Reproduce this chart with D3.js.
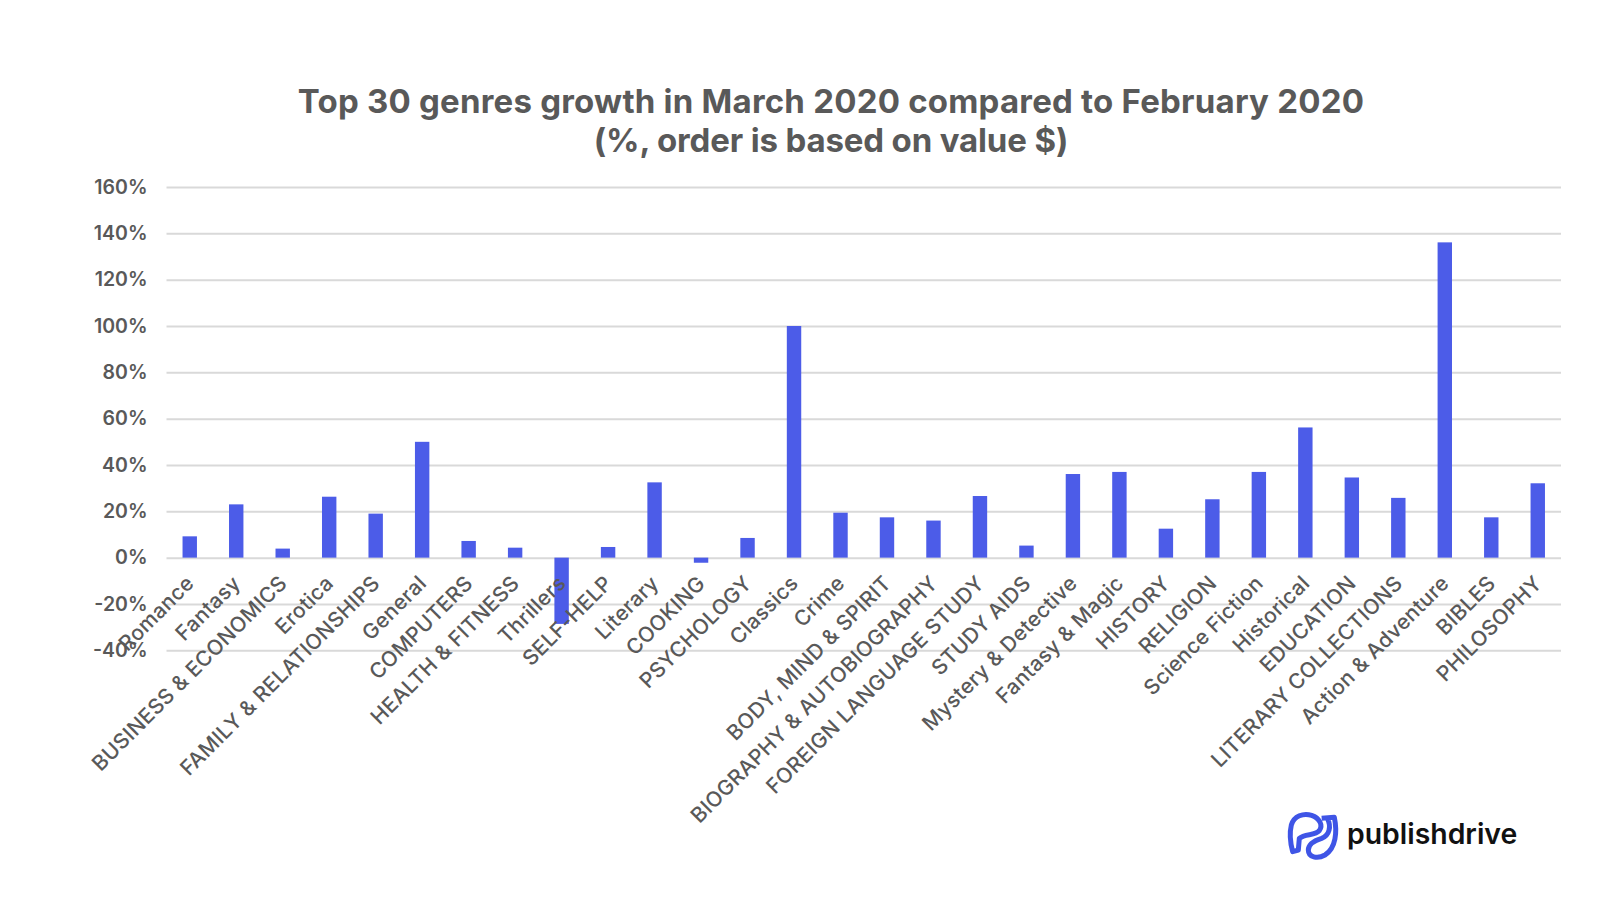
<!DOCTYPE html>
<html>
<head>
<meta charset="utf-8">
<script src="https://cdn.jsdelivr.net/npm/d3@7"></script>
<style>
  html, body { margin: 0; padding: 0; background: #fff; }
  svg { display: block; font-family: Inter, "Open Sans", sans-serif; }
</style>
</head>
<body>
<div id="chart"></div>
<script>
const genres = ["Romance", "Fantasy", "BUSINESS & ECONOMICS", "Erotica", "FAMILY & RELATIONSHIPS",
  "General", "COMPUTERS", "HEALTH & FITNESS", "Thrillers", "SELF-HELP", "Literary", "COOKING",
  "PSYCHOLOGY", "Classics", "Crime", "BODY, MIND & SPIRIT", "BIOGRAPHY & AUTOBIOGRAPHY",
  "FOREIGN LANGUAGE STUDY", "STUDY AIDS", "Mystery & Detective", "Fantasy & Magic", "HISTORY",
  "RELIGION", "Science Fiction", "Historical", "EDUCATION", "LITERARY COLLECTIONS",
  "Action & Adventure", "BIBLES", "PHILOSOPHY"];
const growth = [9.2, 23, 3.9, 26.3, 19, 50, 7.2, 4.3, -28.6, 4.6, 32.5, -2.2,
  8.5, 100, 19.4, 17.4, 16, 26.6, 5.2, 36.1, 37, 12.5,
  25.2, 37, 56.2, 34.6, 25.8, 136.1, 17.4, 32.1];
const yTicks = [-40, -20, 0, 20, 40, 60, 80, 100, 120, 140, 160];
const titleLines = ["Top 30 genres growth in March 2020 compared to February 2020",
  "(%, order is based on value $)"];

const textColor = "#595959";
const gridColor = "#d9d9d9";
const barColor = "#4c5ce8";

const margin = { top: 187, right: 39, bottom: 249.7, left: 166.5 };
const width = 1600 - margin.left - margin.right,
  height = 900 - margin.top - margin.bottom;

const root = d3.select("#chart").append("svg")
  .attr("width", 1600)
  .attr("height", 900);

const svg = root.append("g")
  .attr("transform", "translate(" + margin.left + "," + margin.top + ")");

const xScale = d3.scaleBand().domain(genres).range([0, width]).paddingInner(0.69).paddingOuter(0.345);
const yScale = d3.scaleLinear().domain([-40, 160]).range([height, 0]);

// grid lines and percent labels
const yAxis = svg.append("g")
  .call(d3.axisLeft(yScale).tickValues(yTicks).tickSize(-width).tickPadding(19).tickFormat(d => d + "%"));
yAxis.select(".domain").remove();
yAxis.selectAll("line").attr("stroke", gridColor).attr("stroke-width", 2);
yAxis.selectAll("text")
  .attr("fill", textColor)
  .attr("font-size", 19.5)
  .attr("font-weight", 600)
  .attr("font-family", "Inter");

svg.selectAll(".bar")
  .data(genres)
  .enter().append("rect")
  .attr("class", "bar")
  .attr("x", d => xScale(d))
  .attr("y", (d, i) => yScale(Math.max(growth[i], 0)))
  .attr("width", xScale.bandwidth())
  .attr("height", (d, i) => Math.abs(yScale(growth[i]) - yScale(0)))
  .attr("fill", barColor);

// labels sit on the zero line, so they run over the negative gridlines
const xAxis = svg.append("g")
  .attr("transform", "translate(0," + yScale(0) + ")")
  .call(d3.axisBottom(xScale).tickSize(0).tickPadding(0));
xAxis.select(".domain").remove();
xAxis.selectAll("text")
  .attr("fill", textColor)
  .attr("font-size", 21)
  .attr("font-weight", 500)
  .attr("font-family", "Inter")
  .attr("letter-spacing", 0.3)
  .attr("text-anchor", "end")
  .attr("dy", 0)
  .attr("transform", "translate(5.5,27) rotate(-45)");

root.selectAll(".title")
  .data(titleLines)
  .enter().append("text")
  .attr("class", "title")
  .attr("x", 831)
  .attr("y", (d, i) => 113 + i * 38.5)
  .attr("text-anchor", "middle")
  .attr("fill", textColor)
  .attr("font-size", 33)
  .attr("letter-spacing", (d, i) => i ? -0.15 : 0.22)
  .attr("font-weight", 700)
  .text(d => d);

// publishdrive logo
const logo = root.append("g")
  .attr("transform", "translate(1230,770) scale(0.3333)")
  .attr("fill", "none")
  .attr("stroke", "#3f55e6")
  .attr("stroke-width", 15)
  .attr("stroke-linejoin", "round");
logo.append("path")
  .attr("d", "M188,245 C180,215 178,190 184,165 C192,138 220,128 245,136 C268,144 280,165 268,182 C255,198 225,190 208,205 L205,240 Z");
logo.append("path")
  .attr("d", "M275,145 L313,142 C322,185 318,235 285,255 C262,268 235,262 235,240 C235,222 252,212 275,205 C298,196 305,170 292,145");

root.append("text")
  .attr("x", 1347)
  .attr("y", 844)
  .attr("fill", "#111")
  .attr("font-size", 28.4)
  .attr("font-weight", 600)
  .text("publishdrive");
</script>
</body>
</html>
